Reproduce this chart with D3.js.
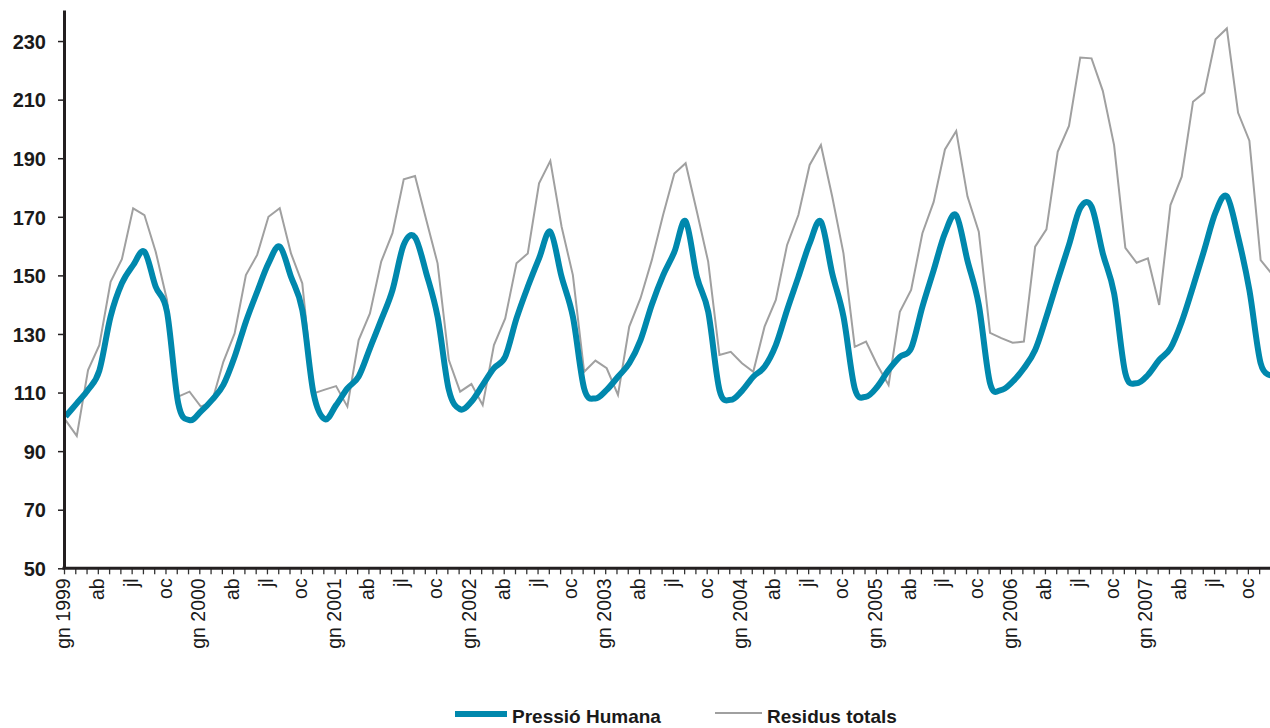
<!DOCTYPE html>
<html>
<head>
<meta charset="utf-8">
<script src="https://cdn.jsdelivr.net/npm/d3@7"></script>
<style>
  html, body { margin: 0; padding: 0; background: #fff; }
  svg { display: block; }
  text { font-family: "Liberation Sans", Arial, sans-serif; }
</style>
</head>
<body>
<svg id="chart" width="1270" height="728"></svg>
<script>
// ---- Data ----
const years = [1999, 2000, 2001, 2002, 2003, 2004, 2005, 2006, 2007];
const monthAbbr = ["gn", "fb", "mç", "ab", "mg", "jn", "jl", "ag", "st", "oc", "nv", "ds"];
const yTicks = [50, 70, 90, 110, 130, 150, 170, 190, 210, 230];
const seriesNames = ["Pressió Humana", "Residus totals"];

const pressioHumana = [
  101.8, 106.3, 110.9, 117.5, 136.0, 147.3, 153.5, 158.1, 146.1, 137.6, 106.3, 100.6,
  103.5, 107.5, 112.6, 122.2, 134.2, 144.4, 154.1, 159.8, 149.5, 138.2, 109.7, 100.9,
  105.7, 111.4, 115.5, 125.1, 134.8, 145.0, 160.5, 163.0, 150.7, 135.9, 110.9, 104.3,
  106.9, 112.6, 118.3, 122.2, 135.3, 146.1, 155.8, 164.9, 149.5, 135.9, 111.4, 108.0,
  110.9, 115.4, 120.0, 127.9, 140.0, 150.0, 158.0, 168.5, 149.5, 137.6, 110.9, 107.5,
  110.6, 115.4, 118.8, 126.2, 138.2, 149.5, 160.9, 168.3, 150.7, 135.9, 111.4, 108.6,
  112.0, 117.7, 122.2, 125.1, 139.3, 151.8, 164.4, 170.5, 155.0, 140.0, 113.2, 110.9,
  113.7, 118.3, 124.5, 135.9, 148.4, 160.4, 173.0, 173.5, 157.5, 143.9, 116.6, 113.2,
  116.0, 121.1, 125.1, 134.2, 146.1, 158.7, 171.5, 177.0, 163.2, 145.0, 120.0, 116.0
];

const residusTotals = [
  100.6,  95.2, 117.7, 126.2, 147.8, 155.5, 172.9, 170.6, 158.1, 141.6, 108.6, 110.3,
  105.2, 106.9, 120.5, 130.2, 150.1, 157.0, 170.0, 172.9, 157.5, 147.3, 109.7, 111.0,
  112.2, 105.2, 127.9, 137.0, 154.7, 164.4, 182.8, 183.9, 168.9, 154.1, 121.1, 110.3,
  112.9, 105.7, 126.2, 135.3, 154.1, 157.5, 181.4, 189.1, 166.6, 150.1, 117.1, 120.9,
  118.3, 109.2, 132.5, 142.2, 155.2, 170.6, 184.8, 188.3, 171.7, 154.7, 122.8, 123.9,
  120.0, 117.1, 132.5, 141.6, 160.4, 170.6, 187.7, 194.5, 176.9, 157.5, 125.6, 127.4,
  119.4, 112.6, 137.6, 145.0, 164.4, 175.1, 193.0, 199.3, 176.9, 164.9, 130.4, 128.6,
  127.0, 127.4, 159.8, 165.7, 192.2, 201.0, 224.4, 224.1, 213.0, 194.5, 159.4, 154.3,
  155.8, 139.9, 174.0, 183.7, 209.3, 212.4, 230.6, 234.3, 205.5, 196.0, 155.2, 150.5
];

// categories: one per month
const categories = [];
years.forEach(yr => monthAbbr.forEach((m, mi) => categories.push(yr + "-" + (mi + 1))));
function labelFor(key) {
  const [yr, mo] = key.split("-").map(Number);
  const m = monthAbbr[mo - 1];
  return mo === 1 ? m + " " + yr : m;
}

// ---- Layout ----
const svg = d3.select("#chart");
const axisX0 = 64;       // y-axis line position
const axisY0 = 568.3;    // x-axis line position
const step = 11.275;

const x = d3.scalePoint()
  .domain(categories)
  .range([65.5, 65.5 + step * (categories.length - 1)]);

const y = d3.scaleLinear()
  .domain([50, 240.6])
  .range([axisY0, 10]);

const blue = "#0088ad";
const grey = "#a0a0a0";
const axisColor = "#231f20";

// ---- Lines ----
const plot = svg.append("g");

const lineGrey = d3.line()
  .x((d, i) => x(categories[i]))
  .y(d => y(d));

const lineBlue = d3.line()
  .x((d, i) => x(categories[i]))
  .y(d => y(d))
  .curve(d3.curveCardinal.tension(0));

plot.append("path")
  .datum(residusTotals)
  .attr("d", lineGrey)
  .attr("fill", "none")
  .attr("stroke", grey)
  .attr("stroke-width", 2)
  .attr("stroke-linejoin", "miter");

plot.append("path")
  .datum(pressioHumana)
  .attr("d", lineBlue)
  .attr("fill", "none")
  .attr("stroke", blue)
  .attr("stroke-width", 6)
  .attr("stroke-linejoin", "round");

// ---- Y axis ----
const yAxis = svg.append("g")
  .attr("transform", `translate(${axisX0},0)`)
  .call(d3.axisLeft(y).tickValues(yTicks).tickSize(6).tickPadding(12).tickSizeOuter(0));
yAxis.select(".domain").attr("stroke", axisColor).attr("stroke-width", 3);
yAxis.selectAll(".tick line").attr("stroke", axisColor).attr("stroke-width", 1.5);
yAxis.selectAll(".tick text")
  .attr("fill", "#1a1a1a")
  .style("font-size", "20px")
  .style("font-weight", "bold")
  .attr("dy", "0.36em");

// ---- X axis: monthly tick marks ----
const xMinor = svg.append("g")
  .attr("transform", `translate(-1.5,${axisY0})`)
  .call(d3.axisBottom(x).tickValues(categories).tickSize(6).tickFormat(""));
xMinor.select(".domain").remove();
xMinor.selectAll(".tick line").attr("stroke", "#333").attr("stroke-width", 1.3);

// x axis line
svg.append("line")
  .attr("x1", axisX0 - 1.5).attr("x2", 1270)
  .attr("y1", axisY0).attr("y2", axisY0)
  .attr("stroke", axisColor).attr("stroke-width", 3);

// ---- X axis labels every 3 months ----
const labelKeys = categories.filter((k, i) => i % 3 === 0);
const xLab = svg.append("g")
  .attr("transform", `translate(-3,${axisY0})`)
  .call(d3.axisBottom(x).tickValues(labelKeys).tickSize(0).tickFormat(labelFor));
xLab.select(".domain").remove();
xLab.selectAll(".tick text")
  .attr("transform", "rotate(-90)")
  .attr("x", -10)
  .attr("y", 0)
  .attr("dy", "0.36em")
  .style("text-anchor", "end")
  .style("font-size", "19.5px")
  .attr("fill", "#1a1a1a");

// ---- Legend ----
const legend = svg.append("g");
const legendItems = [
  { name: seriesNames[0], color: blue, width: 6, x1: 455, x2: 507, y: 714 },
  { name: seriesNames[1], color: grey, width: 2, x1: 715, x2: 762, y: 713 }
];
legendItems.forEach(it => {
  legend.append("line")
    .attr("x1", it.x1).attr("x2", it.x2)
    .attr("y1", it.y).attr("y2", it.y)
    .attr("stroke", it.color).attr("stroke-width", it.width);
  legend.append("text")
    .attr("x", it.x2 + 5)
    .attr("y", 723)
    .text(it.name)
    .style("font-size", "19px")
    .style("font-weight", "bold")
    .attr("fill", "#1a1a1a");
});
</script>
</body>
</html>
